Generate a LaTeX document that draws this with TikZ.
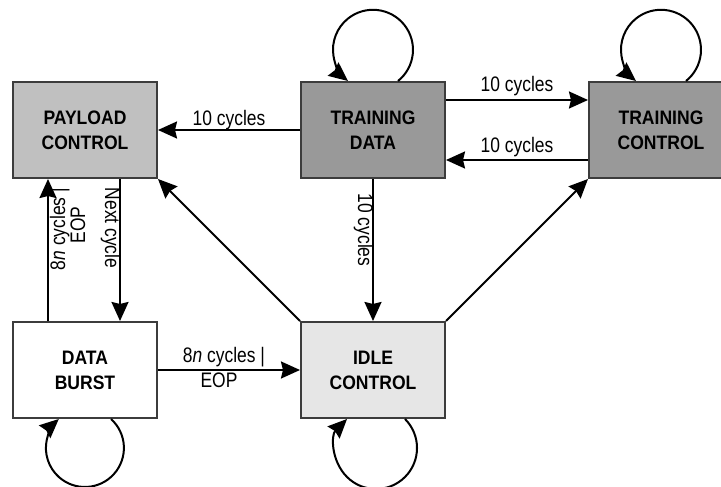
\documentclass[tikz,border=0pt]{standalone}
\usepackage{fontspec}
\setmainfont{Liberation Sans}[FakeStretch=0.83]
\newfontfamily\boxfont{Liberation Sans}[FakeStretch=0.9]
\usetikzlibrary{arrows.meta}
\definecolor{pcfill}{HTML}{C0C0C0}
\definecolor{tfill}{HTML}{999999}
\definecolor{ifill}{HTML}{E6E6E6}
\definecolor{bord}{HTML}{3C3C3C}
\begin{document}
\begin{tikzpicture}[x=1pt,y=1pt,
  box/.style={draw=bord, line width=2pt, minimum width=144pt, minimum height=96pt,
    align=center, inner sep=0pt, font=\boxfont\bfseries\fontsize{19.5}{25}\selectfont},
  arr/.style={line width=2pt, -{Stealth[length=19pt,width=17pt,inset=2pt]}},
  lbl/.style={font=\fontsize{21}{24}\selectfont, inner sep=0pt}]
\useasboundingbox (0,0) rectangle (721,-487);
\node[box, fill=pcfill] (PC) at (85,-130) {PAYLOAD\\CONTROL};
\node[box, fill=tfill] (TD) at (373,-130) {TRAINING\\DATA};
\node[box, fill=tfill] (TC) at (661,-130) {TRAINING\\CONTROL};
\node[box, fill=white] (DB) at (85,-370) {DATA\\BURST};
\node[box, fill=ifill] (IC) at (373,-370) {IDLE\\CONTROL};

\draw[arr] (TD.west) -- (PC.east);
\draw[arr] ([yshift=30pt]TD.east) -- ([yshift=30pt]TC.west);
\draw[arr] ([yshift=-30pt]TC.west) -- ([yshift=-30pt]TD.east);
\draw[arr] (TD.south) -- (IC.north);
\draw[arr] ([xshift=-37pt]DB.north) -- ([xshift=-37pt]PC.south);
\draw[arr] ([xshift=35pt]PC.south) -- ([xshift=35pt]DB.north);
\draw[arr] (DB.east) -- (IC.west);
\draw[arr] (IC.north west) -- (PC.south east);
\draw[arr] (IC.north east) -- (TC.south west);

\draw[arr] ([xshift=25pt]TD.north) arc[start angle=-51.3, end angle=231.3, radius=40pt];
\draw[arr] ([xshift=25pt]TC.north) arc[start angle=-51.3, end angle=231.3, radius=40pt];
\draw[arr] ([xshift=26pt]DB.south) arc[start angle=48, end angle=-228, radius=39pt];
\draw[arr] ([xshift=32pt]IC.south) arc[start angle=45, end angle=-225, radius=41pt];

\node[lbl,anchor=base] (l1) at (229,-125) {10 cycles};
\node[lbl,anchor=base] (l2) at (517,-92) {10 cycles};
\node[lbl,anchor=base] (l3) at (517,-153) {10 cycles};
\node[lbl,anchor=base,rotate=-90] (l4) at (358,-230) {10 cycles};
\node[lbl,anchor=base,rotate=-90] (l5) at (105,-228) {Next cycle};
\node[lbl,anchor=base,rotate=90] (l6a) at (65,-229) {8\textit{n} cycles |};
\node[lbl,anchor=base,rotate=90] (l6b) at (85,-225) {EOP};
\node[lbl,anchor=base] (l7a) at (224,-362) {8\textit{n} cycles |};
\node[lbl,anchor=base] (l7b) at (219,-387) {EOP};
\end{tikzpicture}
\end{document}
